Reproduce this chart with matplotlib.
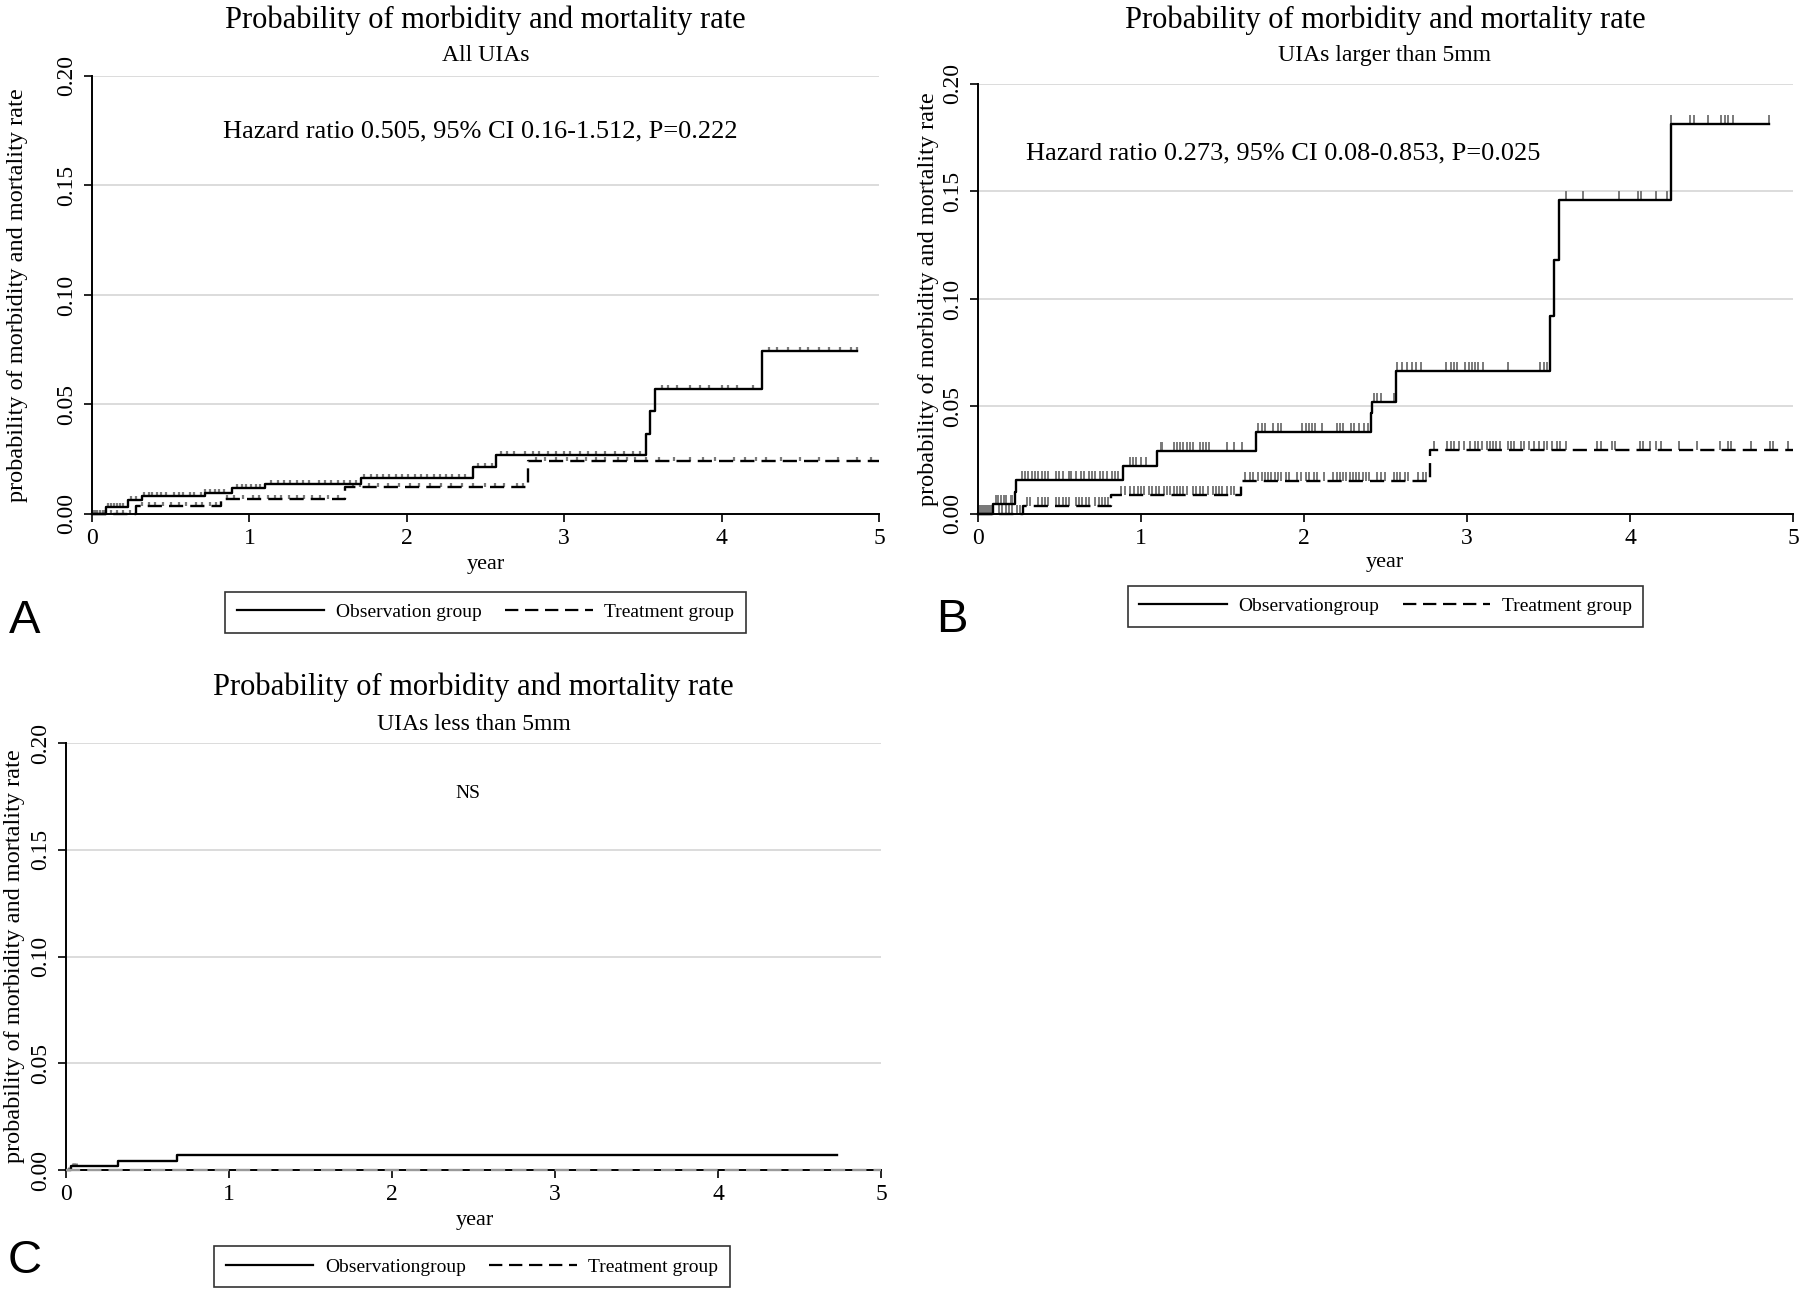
import numpy as np
import matplotlib
matplotlib.use("Agg")
import matplotlib.pyplot as plt
from matplotlib.lines import Line2D

plt.rcParams["font.family"] = ["Liberation Serif", "DejaVu Serif"]

# ---- panel A: all UIAs ----
a_obs_t = [0.09, 0.23, 0.315, 0.72, 0.89, 1.10, 1.71, 2.42, 2.57, 3.52, 3.545, 3.58, 4.26]
a_obs_v = [0.0034, 0.0064, 0.008, 0.0095, 0.0117, 0.0137, 0.0164, 0.0214, 0.027, 0.0366, 0.047, 0.057, 0.0744]
a_obs_end = 4.86
a_trt_t = [0.28, 0.82, 1.61, 2.77]
a_trt_v = [0.0037, 0.0069, 0.0122, 0.0242]
a_trt_end = 5.0
a_obs_cens = [0.01, 0.03, 0.05, 0.07, 0.10, 0.12, 0.14, 0.16, 0.18, 0.20, 0.25, 0.28,
              0.33, 0.36, 0.38, 0.41, 0.44, 0.47, 0.52, 0.55, 0.58, 0.62, 0.65,
              0.69, 0.72, 0.75, 0.78, 0.81, 0.84, 0.92, 0.95, 0.98, 1.01, 1.04, 1.07,
              1.14, 1.18, 1.22, 1.26, 1.30, 1.34, 1.38, 1.44, 1.48, 1.52, 1.56, 1.60, 1.64, 1.68,
              1.73, 1.77, 1.81, 1.85, 1.89, 1.93, 1.97, 2.01, 2.05, 2.09, 2.13, 2.17, 2.21,
              2.25, 2.29, 2.33, 2.37, 2.45, 2.50, 2.54, 2.60, 2.64, 2.68, 2.75, 2.80, 2.84,
              2.90, 2.95, 3.00, 3.04, 3.10, 3.15, 3.20, 3.26, 3.32, 3.38, 3.44, 3.48,
              3.62, 3.66, 3.72, 3.80, 3.86, 3.92, 4.00, 4.04, 4.10, 4.20,
              4.30, 4.35, 4.42, 4.50, 4.55, 4.62, 4.68, 4.75, 4.82, 4.86]
a_trt_cens = [0.02, 0.05, 0.08, 0.12, 0.16, 0.20, 0.24, 0.32, 0.36, 0.40, 0.45, 0.50,
              0.55, 0.60, 0.66, 0.70, 0.75, 0.79, 0.86, 0.90, 0.96, 1.02, 1.06, 1.12,
              1.16, 1.20, 1.25, 1.30, 1.35, 1.40, 1.45, 1.50, 1.56, 1.66, 1.70, 1.76,
              1.82, 1.88, 1.95, 2.02, 2.08, 2.15, 2.22, 2.28, 2.35, 2.42, 2.50, 2.56,
              2.62, 2.70, 2.74, 2.82, 2.88, 2.95, 3.02, 3.08, 3.14, 3.20, 3.26, 3.34,
              3.40, 3.45, 3.52, 3.60, 3.70, 3.80, 3.88, 3.96, 4.08, 4.15, 4.22, 4.28,
              4.38, 4.50, 4.62, 4.74, 4.86, 4.95]

# ---- panel B: UIAs larger than 5mm ----
b_obs_t = [0.09, 0.226, 0.232, 0.889, 1.098, 1.704, 2.41, 2.42, 2.567, 3.51, 3.535, 3.565, 4.25]
b_obs_v = [0.0045, 0.010, 0.0159, 0.0225, 0.0292, 0.0383, 0.047, 0.0519, 0.0663, 0.0923, 0.118, 0.146, 0.1812]
b_obs_end = 4.85
b_trt_t = [0.278, 0.817, 1.616, 2.771]
b_trt_v = [0.0037, 0.0086, 0.0152, 0.0297]
b_trt_end = 5.0
b_obs_cens = [0.01, 0.02, 0.03, 0.04, 0.05, 0.06, 0.07, 0.08, 0.11, 0.12, 0.14, 0.16, 0.17,
              0.20, 0.21, 0.27, 0.29, 0.31, 0.33, 0.35, 0.37, 0.39, 0.41, 0.43, 0.48, 0.50,
              0.52, 0.56, 0.57, 0.60, 0.63, 0.65, 0.68, 0.70, 0.72, 0.75, 0.77, 0.79, 0.82,
              0.84, 0.86, 0.93, 0.95, 0.97, 1.00, 1.03, 1.12, 1.13, 1.20, 1.22, 1.24, 1.26,
              1.28, 1.30, 1.32, 1.36, 1.38, 1.40, 1.42, 1.53, 1.57, 1.62, 1.72, 1.74, 1.76,
              1.81, 1.84, 1.86, 1.99, 2.01, 2.03, 2.05, 2.07, 2.11, 2.20, 2.22, 2.24, 2.29,
              2.31, 2.34, 2.37, 2.39, 2.43, 2.45, 2.47, 2.55, 2.57, 2.60, 2.63, 2.66, 2.69,
              2.72, 2.87, 2.90, 2.92, 2.94, 2.99, 3.01, 3.03, 3.05, 3.07, 3.10, 3.25, 3.45,
              3.47, 3.49, 3.61, 3.71, 3.93, 4.05, 4.07, 4.16, 4.23, 4.25, 4.37, 4.39, 4.48,
              4.56, 4.58, 4.60, 4.63, 4.85]
b_trt_cens = [0.01, 0.02, 0.03, 0.04, 0.05, 0.06, 0.07, 0.08, 0.09, 0.13, 0.15, 0.17, 0.19,
              0.21, 0.24, 0.26, 0.30, 0.32, 0.37, 0.39, 0.41, 0.43, 0.48, 0.50, 0.52, 0.54,
              0.56, 0.60, 0.62, 0.64, 0.66, 0.68, 0.72, 0.74, 0.76, 0.78, 0.80, 0.88, 0.90,
              0.93, 0.96, 0.98, 1.00, 1.02, 1.05, 1.07, 1.09, 1.11, 1.14, 1.16, 1.18, 1.20,
              1.22, 1.24, 1.26, 1.28, 1.32, 1.34, 1.36, 1.38, 1.41, 1.44, 1.46, 1.48, 1.50,
              1.53, 1.55, 1.57, 1.64, 1.67, 1.69, 1.72, 1.74, 1.76, 1.78, 1.80, 1.82, 1.84,
              1.86, 1.89, 1.91, 1.96, 1.98, 2.01, 2.03, 2.06, 2.08, 2.12, 2.18, 2.20, 2.22,
              2.24, 2.26, 2.28, 2.30, 2.32, 2.34, 2.36, 2.38, 2.40, 2.45, 2.47, 2.50, 2.55,
              2.57, 2.59, 2.62, 2.64, 2.70, 2.73, 2.75, 2.80, 2.88, 2.90, 2.92, 2.95, 2.98,
              3.02, 3.05, 3.07, 3.09, 3.12, 3.14, 3.16, 3.18, 3.20, 3.25, 3.27, 3.29, 3.33,
              3.35, 3.38, 3.41, 3.44, 3.47, 3.49, 3.52, 3.55, 3.57, 3.61, 3.80, 3.82, 3.89,
              3.91, 4.06, 4.08, 4.12, 4.16, 4.19, 4.30, 4.41, 4.55, 4.60, 4.62, 4.74, 4.86,
              4.88, 4.97]

# ---- panel C: UIAs less than 5mm ----
c_obs_t = [0.03, 0.318, 0.678]
c_obs_v = [0.0019, 0.0044, 0.0071]
c_obs_end = 4.73
c_trt_t = []
c_trt_v = []
c_trt_end = 5.0
c_obs_cens = [0.02, 0.04, 0.05, 0.06]
c_trt_cens = []

yticks = [0.00, 0.05, 0.10, 0.15, 0.20]
xticks = [0, 1, 2, 3, 4, 5]
title = "Probability of morbidity and mortality rate"
ylab = "probability of morbidity and mortality rate"


def km(ax, t, v, end, cens, ls, tick_h, color="black", tick_lw=1.1):
    xs = [0] + list(t) + [end]
    ys = [0] + list(v) + [v[-1] if v else 0]
    ax.step(xs, ys, where="post", color=color, lw=1.7, ls=ls, clip_on=False, zorder=3)
    if cens:
        lv = np.array([0] + list(v))
        c = np.array(cens)
        base = lv[np.searchsorted(np.array(t), c, side="right")]
        ax.vlines(c, base, base + tick_h, color="#7a7a7a", lw=tick_lw, zorder=2, clip_on=False)


def style(ax):
    ax.set_xlim(0, 5)
    ax.set_ylim(0, 0.20)
    ax.set_xticks(xticks)
    ax.set_yticks(yticks)
    ax.set_yticklabels([f"{y:.2f}" for y in yticks], rotation=90, va="center")
    ax.tick_params(labelsize=17, length=6, width=1.2, pad=4)
    ax.tick_params(axis="y", pad=5)
    for s in ["top", "right"]:
        ax.spines[s].set_visible(False)
    for s in ["left", "bottom"]:
        ax.spines[s].set_linewidth(1.4)
    for y in yticks[1:]:
        ax.axhline(y, color="#dcdcdc", lw=1.4, zorder=0)


fig = plt.figure(figsize=(18, 12.92), dpi=100)
axA = fig.add_axes([0.0511, 0.6022, 0.4372, 0.339])
axB = fig.add_axes([0.5433, 0.6022, 0.4528, 0.3328])
axC = fig.add_axes([0.0367, 0.0944, 0.4528, 0.3305])

dash = (0, (6, 3))
km(axA, a_obs_t, a_obs_v, a_obs_end, a_obs_cens, "-", 0.0018, tick_lw=1.6)
km(axA, a_trt_t, a_trt_v, a_trt_end, a_trt_cens, dash, 0.0018, tick_lw=1.6)
km(axB, b_obs_t, b_obs_v, b_obs_end, b_obs_cens, "-", 0.0042, tick_lw=1.4)
km(axB, b_trt_t, b_trt_v, b_trt_end, b_trt_cens, dash, 0.0042, tick_lw=1.4)
km(axC, c_obs_t, c_obs_v, c_obs_end, c_obs_cens, "-", 0.0012, tick_lw=2.0)
km(axC, c_trt_t, c_trt_v, c_trt_end, c_trt_cens, dash, 0.0012, color="#9a9a9a")
for ax in (axA, axB, axC):
    style(ax)

# titles / subtitles
fig.text(0.2697, 0.9845, title, ha="center", va="center", fontsize=22)
fig.text(0.2697, 0.9567, "All UIAs", ha="center", va="center", fontsize=17)
fig.text(0.7694, 0.9845, title, ha="center", va="center", fontsize=22)
fig.text(0.7694, 0.9574, "UIAs larger than 5mm", ha="center", va="center", fontsize=17)
fig.text(0.2631, 0.4679, title, ha="center", va="center", fontsize=22)
fig.text(0.2631, 0.4396, "UIAs less than 5mm", ha="center", va="center", fontsize=17)

fig.text(0.2667, 0.8986, "Hazard ratio 0.505, 95% CI 0.16-1.512, P=0.222",
         ha="center", va="center", fontsize=19)
fig.text(0.5700, 0.8816, "Hazard ratio 0.273, 95% CI 0.08-0.853, P=0.025",
         ha="left", va="center", fontsize=19)
fig.text(0.2598, 0.3862, "NS", ha="center", va="center", fontsize=14)

# axis labels
fig.text(0.0099, 0.7717, ylab, rotation=90, ha="center", va="center", fontsize=17.5)
fig.text(0.5156, 0.7686, ylab, rotation=90, ha="center", va="center", fontsize=17.5)
fig.text(0.0078, 0.2597, ylab, rotation=90, ha="center", va="center", fontsize=17.5)
fig.text(0.2697, 0.5627, "year", ha="center", va="center", fontsize=16)
fig.text(0.7694, 0.5650, "year", ha="center", va="center", fontsize=16)
fig.text(0.2636, 0.0550, "year", ha="center", va="center", fontsize=16)


# legends
def legend(labels, center):
    h = [Line2D([], [], color="black", lw=1.6, ls="-"),
         Line2D([], [], color="black", lw=1.6, ls=dash)]
    lg = fig.legend(h, labels, loc="center", bbox_to_anchor=center, ncol=2,
                    fontsize=14, frameon=True, fancybox=False, edgecolor="black",
                    handlelength=4.5, handletextpad=0.6, columnspacing=1.2,
                    borderpad=0.6, borderaxespad=0)
    lg.get_frame().set_linewidth(1.2)


legend(["Observation group", "Treatment group"], (0.2697, 0.5260))
legend(["Observationgroup", "Treatment group"], (0.7697, 0.5306))
legend(["Observationgroup", "Treatment group"], (0.2622, 0.0194))

# panel letters
for x, y, s in [(0.0139, 0.5194, "A"), (0.5289, 0.5200, "B"), (0.0139, 0.0240, "C")]:
    fig.text(x, y, s, ha="center", va="center", fontsize=34, family="Liberation Sans")

fig.savefig("out.png", dpi=100)
